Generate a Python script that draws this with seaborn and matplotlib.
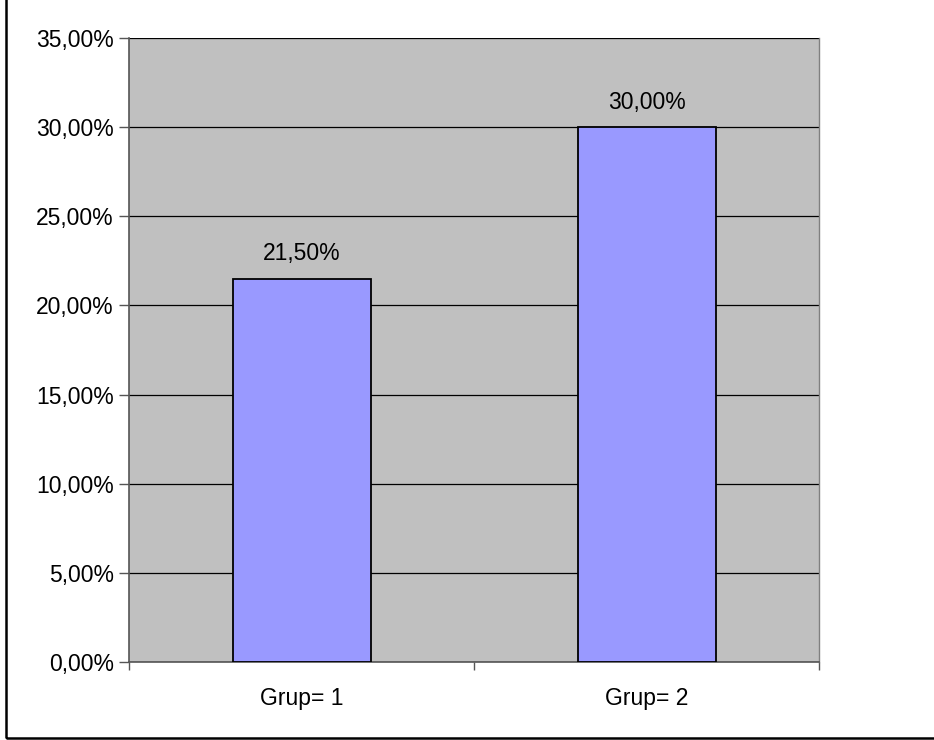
import matplotlib
matplotlib.use('Agg')
import matplotlib.pyplot as plt
import seaborn as sns
import pandas as pd
from matplotlib.patches import Rectangle
from matplotlib.ticker import FuncFormatter, MultipleLocator

# Data
groups = ['Grup= 1', 'Grup= 2']
percent = [21.5, 30.0]

df = pd.DataFrame({'group': groups, 'percent': percent})

sns.set_style('white')
plt.rcParams['font.family'] = ['Liberation Sans', 'DejaVu Sans']
plt.rcParams['text.color'] = 'black'
plt.rcParams['xtick.labelcolor'] = 'black'
plt.rcParams['ytick.labelcolor'] = 'black'

fig = plt.figure(figsize=(9.34, 7.4), dpi=100)
ax = fig.add_axes([129 / 934, 1 - 662 / 740, 690 / 934, 624 / 740])

sns.barplot(data=df, x='group', y='percent', color='#9999FF', width=0.4,
            edgecolor='black', linewidth=1.3, saturation=1, ax=ax, zorder=3)

ax.set_facecolor('#C0C0C0')
ax.set_xlim(-0.5, 1.5)
ax.set_ylim(0, 35)
ax.yaxis.set_major_locator(MultipleLocator(5))
fmt = lambda v, p: f'{v:.2f}'.replace('.', ',') + '%'
ax.yaxis.set_major_formatter(FuncFormatter(fmt))
ax.grid(axis='y', color='black', linewidth=0.9, zorder=0)
ax.set_axisbelow(True)

# ticks between categories
ax.set_xticks([-0.5, 0.5, 1.5], minor=False)
ax.set_xticklabels([])
ax.set_xticks([0, 1], minor=True)
ax.set_xticklabels(groups, minor=True)
ax.tick_params(axis='x', which='minor', length=0, labelsize=16.5, pad=18, labelcolor='black')
ax.tick_params(axis='x', which='major', direction='out', length=6, width=1, color='#555555')
ax.tick_params(axis='y', direction='out', length=7, width=1, color='#555555',
               labelsize=16.5, pad=4, labelcolor='black')
ax.tick_params(left=True, bottom=True)
ax.set_xlabel('')
ax.set_ylabel('')

for side in ['left', 'bottom']:
    ax.spines[side].set_color('#555555')
    ax.spines[side].set_linewidth(1.2)
ax.spines['top'].set_visible(False)
ax.spines['right'].set_color('#808080')
ax.spines['right'].set_linewidth(1)

for c in ax.containers:
    ax.bar_label(c, labels=[fmt(v, None) for v in percent], padding=9.5,
                 fontsize=16.5, color='black')

# outer chart border (only left and bottom edges fall inside the image)
fig.patches.append(Rectangle((6 / 934, 2 / 740), 1.0, 1.0,
                             transform=fig.transFigure, fill=False,
                             edgecolor='black', linewidth=1.8))

fig.savefig('out.png', dpi=100)
